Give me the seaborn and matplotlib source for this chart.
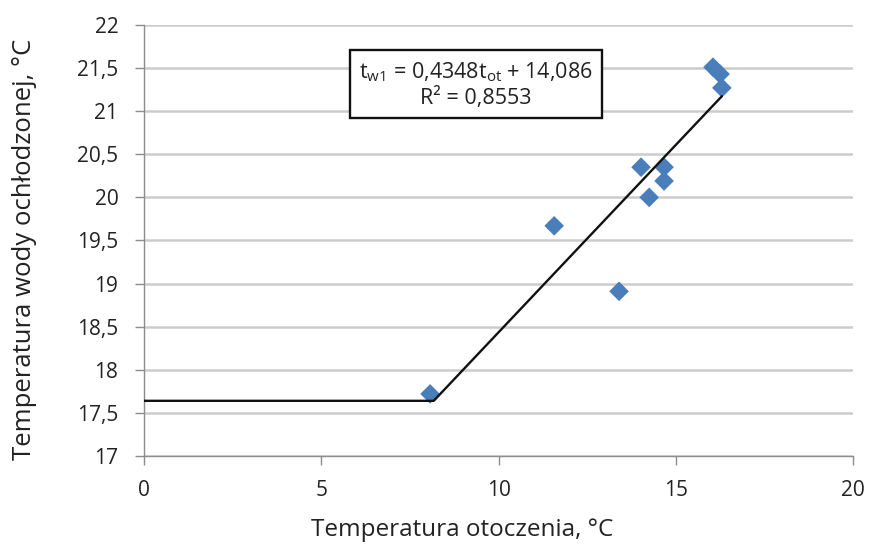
import numpy as np
import pandas as pd
import matplotlib
matplotlib.use("Agg")
import matplotlib.pyplot as plt
import seaborn as sns

# Measured points: ambient temperature vs cooled water temperature
t_ot = [8.07, 11.57, 13.40, 14.02, 14.25, 14.67, 14.67, 16.05, 16.25, 16.30]
t_w1 = [17.72, 19.67, 18.91, 20.35, 20.00, 20.35, 20.19, 21.51, 21.43, 21.27]

# Regression coefficients and the flat lower limit
slope = 0.4348
intercept = 14.086
r2 = 0.8553
flat_level = 17.64

x_ticks = [0, 5, 10, 15, 20]
y_ticks = [17, 17.5, 18, 18.5, 19, 19.5, 20, 20.5, 21, 21.5, 22]

sns.set_theme(style="white")
plt.rcParams["font.family"] = ["Open Sans", "DejaVu Sans"]

fig = plt.figure(figsize=(8.7, 5.47), dpi=100)
ax = fig.add_axes([0.1655, 0.1664, 0.815, 0.788])

grid_c = "#cccccc"
for yv in y_ticks:
    ax.axhline(yv, color=grid_c, lw=1.8, zorder=0)

# Piecewise characteristic: constant level, then the fitted line
x_break = (flat_level - intercept) / slope
x_end = max(t_ot)
line_df = pd.DataFrame({
    "x": [0, x_break, x_end],
    "y": [flat_level, flat_level, slope * x_end + intercept],
})
ax.plot(line_df["x"], line_df["y"], color="#111111", lw=1.7, zorder=3)

df = pd.DataFrame({"t_ot": t_ot, "t_w1": t_w1})
sns.scatterplot(data=df, x="t_ot", y="t_w1", marker="D", s=100,
                color="#4a7ebb", edgecolor="none", ax=ax, zorder=2)

ax.set_xlim(0, 20)
ax.set_ylim(17, 22)
ax.set_xticks(x_ticks)
ax.set_yticks(y_ticks)
ax.set_xticklabels([str(v) for v in x_ticks])
ax.set_yticklabels([("%g" % v).replace(".", ",") for v in y_ticks])

for s in ["top", "right"]:
    ax.spines[s].set_visible(False)
for s in ["left", "bottom"]:
    ax.spines[s].set_color("#8c8c8c")
    ax.spines[s].set_linewidth(1.0)
ax.tick_params(axis="both", which="both", direction="out", length=6.5,
               width=1.0, color="#8c8c8c", labelsize=15, labelcolor="#222222",
               left=True, bottom=True)
ax.tick_params(axis="y", pad=12)
ax.tick_params(axis="x", pad=11)

ax.set_xlabel("Temperatura otoczenia, °C", fontsize=17.5, color="#222222")
ax.set_ylabel("Temperatura wody ochłodzonej, °C", fontsize=18.5, color="#222222")
ax.xaxis.set_label_coords(0.449, -0.145)
ax.yaxis.set_label_coords(-0.151, 0.48)

eq = (r"t$\mathregular{_{w1}}$ = " + ("%.4f" % slope).replace(".", ",")
      + r"t$\mathregular{_{ot}}$ + " + ("%.3f" % intercept).replace(".", ",")
      + "\n" + "R² = " + ("%.4f" % r2).replace(".", ","))
ax.text(0.4685, 0.862, eq, transform=ax.transAxes, ha="center", va="center",
        fontsize=15.5, color="#222222", linespacing=1.2, zorder=5,
        bbox=dict(boxstyle="square,pad=0.42", fc="white", ec="#111111", lw=1.7))

fig.savefig("out.png", dpi=100)
